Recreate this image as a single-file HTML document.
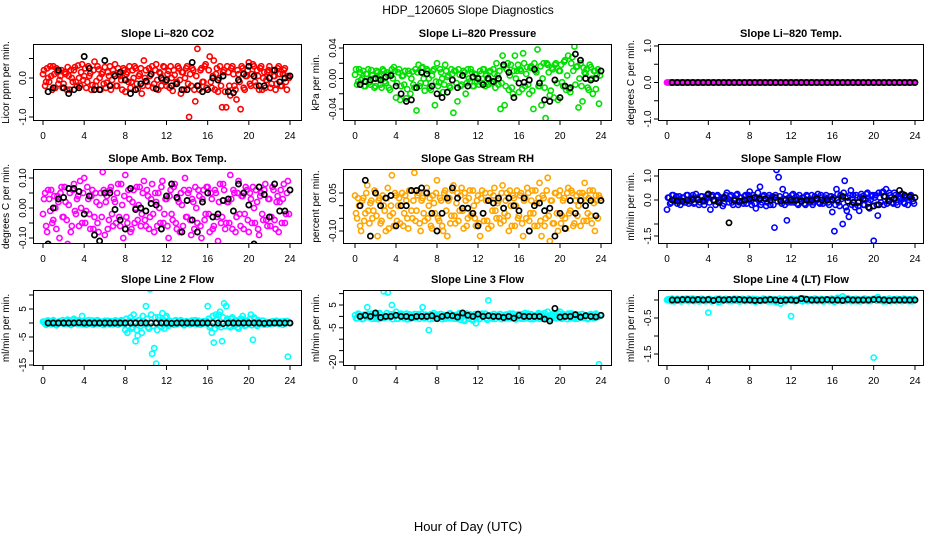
<!DOCTYPE html>
<html><head><meta charset="utf-8"><style>
html,body{margin:0;padding:0;background:#fff;}
svg{display:block;font-family:"Liberation Sans",sans-serif;}
</style></head><body>
<svg id="chart" width="936" height="540" viewBox="0 0 936 540" xmlns="http://www.w3.org/2000/svg">
<rect width="936" height="540" fill="#fff"/>
<text x="468" y="14" font-size="12" text-anchor="middle">HDP_120605  Slope Diagnostics</text>
<text x="468" y="531" font-size="13" text-anchor="middle">Hour of Day (UTC)</text>
</svg>
<script>
const denseHours = [0,0.2,0.4,0.6,0.8,1,1.2,1.4,1.6,1.8,2,2.2,2.4,2.6,2.8,3,3.2,3.4,3.6,3.8,4,4.2,4.4,4.6,4.8,5,5.2,5.4,5.6,5.8,6,6.2,6.4,6.6,6.8,7,7.2,7.4,7.6,7.8,8,8.2,8.4,8.6,8.8,9,9.2,9.4,9.6,9.8,10,10.2,10.4,10.6,10.8,11,11.2,11.4,11.6,11.8,12,12.2,12.4,12.6,12.8,13,13.2,13.4,13.6,13.8,14,14.2,14.4,14.6,14.8,15,15.2,15.4,15.6,15.8,16,16.2,16.4,16.6,16.8,17,17.2,17.4,17.6,17.8,18,18.2,18.4,18.6,18.8,19,19.2,19.4,19.6,19.8,20,20.2,20.4,20.6,20.8,21,21.2,21.4,21.6,21.8,22,22.2,22.4,22.6,22.8,23,23.2,23.4,23.6,23.8];
const denseHours2 = [0.1,0.3,0.5,0.7,0.9,1.1,1.3,1.5,1.7,1.9,2.1,2.3,2.5,2.7,2.9,3.1,3.3,3.5,3.7,3.9,4.1,4.3,4.5,4.7,4.9,5.1,5.3,5.5,5.7,5.9,6.1,6.3,6.5,6.7,6.9,7.1,7.3,7.5,7.7,7.9,8.1,8.3,8.5,8.7,8.9,9.1,9.3,9.5,9.7,9.9,10.1,10.3,10.5,10.7,10.9,11.1,11.3,11.5,11.7,11.9,12.1,12.3,12.5,12.7,12.9,13.1,13.3,13.5,13.7,13.9,14.1,14.3,14.5,14.7,14.9,15.1,15.3,15.5,15.7,15.9,16.1,16.3,16.5,16.7,16.9,17.1,17.3,17.5,17.7,17.9,18.1,18.3,18.5,18.7,18.9,19.1,19.3,19.5,19.7,19.9,20.1,20.3,20.5,20.7,20.9,21.1,21.3,21.5,21.7,21.9,22.1,22.3,22.5,22.7,22.9,23.1,23.3,23.5,23.7,23.9];
const blackHours = [0.5,1,1.5,2,2.5,3,3.5,4,4.5,5,5.5,6,6.5,7,7.5,8,8.5,9,9.5,10,10.5,11,11.5,12,12.5,13,13.5,14,14.5,15,15.5,16,16.5,17,17.5,18,18.5,19,19.5,20,20.5,21,21.5,22,22.5,23,23.5,24];
const xTicks = [0,4,8,12,16,20,24];

const co2Dense = [0.1,-0.2,0.25,-0.1,0.05,0.3,-0.25,0.15,-0.05,0.2,
-0.15,0.1,0.28,-0.3,0.0,0.2,-0.1,0.32,-0.2,0.35,
0.05,-0.25,0.3,0.12,-0.18,0.42,-0.08,0.22,-0.3,0.15,
0.28,-0.12,0.05,-0.3,0.2,0.35,-0.2,0.1,-0.05,0.25,
-0.35,0.15,0.3,-0.1,0.0,0.25,-0.28,0.1,-0.4,0.45,
0.2,-0.2,0.05,0.3,-0.15,0.35,-0.3,0.12,-0.05,0.28,
-0.2,0.18,0.3,-0.33,0.08,-0.1,0.25,-0.4,0.15,0.0,
0.3,-1.0,-0.2,0.2,-0.6,0.75,-0.3,0.25,-0.1,0.35,
-1.2,0.55,-0.25,0.45,0.1,-0.35,0.3,-0.75,0.2,-0.75,
0.15,-0.45,0.3,-0.2,-0.55,0.1,-0.8,0.25,-0.3,0.05,
0.4,-0.2,0.35,-0.1,0.2,-0.3,0.3,0.0,-0.25,0.15,
0.3,-0.15,0.05,-0.3,0.25,0.1,-0.2,0.2,-0.1,0.05];
const co2Dense2 = [0.2,-0.1,0.0,0.3,-0.3,0.1,0.25,-0.15,0.05,-0.25,
0.15,-0.3,0.05,0.2,-0.1,0.28,-0.2,0.0,0.15,-0.05,
0.25,-0.1,0.05,-0.3,0.2,-0.2,0.3,0.0,0.1,-0.15,
-0.25,0.15,0.3,-0.05,0.1,-0.2,0.25,0.05,-0.3,0.2,
0.1,-0.1,-0.25,0.2,0.3,-0.15,0.05,0.25,-0.2,0.0,
-0.1,0.25,0.1,-0.25,0.2,-0.05,0.15,-0.2,0.3,-0.1,
0.1,-0.25,0.0,0.2,-0.15,0.3,-0.05,0.15,-0.3,0.25,
-0.15,0.1,0.25,-0.3,0.05,-0.2,0.2,-0.1,0.3,-0.25,
0.2,-0.1,0.05,-0.3,0.25,0.0,-0.2,0.15,-0.35,0.3,
-0.2,0.25,0.1,-0.3,0.2,-0.1,0.3,-0.25,0.05,0.2,
-0.15,0.1,0.3,-0.2,0.05,0.25,-0.3,0.15,-0.05,0.2,
-0.25,0.2,0.05,-0.15,0.3,-0.2,0.1,0.25,-0.3,0.0];
const co2Black = [-0.35,-0.25,0.2,-0.25,-0.4,-0.3,-0.25,0.55,
0.25,-0.3,-0.3,0.45,-0.2,0.05,0.15,-0.05,
-0.4,-0.3,-0.15,-0.08,0.1,-0.28,0.0,-0.05,
-0.2,-0.15,-0.3,-0.3,0.4,-0.2,-0.35,-0.3,
0.0,-0.05,0.05,-0.35,-0.38,-0.05,0.1,0.3,
0.05,-0.2,-0.2,0.0,0.2,-0.1,0.0,0.05];

const presDense = [0.005,-0.008,0.012,-0.002,0.01,-0.01,0.006,-0.005,0.011,0.0,
-0.01,0.008,0.003,-0.012,0.01,-0.006,0.005,-0.015,0.012,0.015,
-0.025,0.008,-0.028,0.003,-0.008,-0.026,0.01,-0.02,0.009,-0.012,
-0.042,0.018,-0.006,0.015,-0.016,0.012,0.0,-0.015,0.01,-0.035,
0.02,-0.005,0.008,-0.018,0.018,0.002,-0.01,0.012,-0.045,0.01,
-0.03,0.005,-0.008,0.01,-0.02,0.012,-0.004,0.008,-0.01,0.005,
0.0,0.01,-0.006,0.012,0.004,-0.008,0.01,-0.004,0.006,0.02,
-0.008,-0.04,0.03,-0.035,0.012,-0.015,0.018,-0.02,0.03,0.01,
-0.018,0.01,0.033,-0.01,0.015,-0.02,0.016,-0.04,0.01,0.038,
-0.01,-0.035,0.02,-0.052,0.018,-0.022,0.014,-0.025,0.02,-0.028,
0.01,-0.005,0.022,-0.015,0.03,-0.018,0.028,0.042,0.015,-0.038,
0.02,-0.03,0.008,0.012,-0.015,0.015,-0.02,0.01,0.005,-0.033];
const presDense2 = [0.012,-0.004,0.008,0.0,-0.01,0.006,0.012,-0.008,0.004,-0.012,
0.01,0.0,-0.008,0.012,-0.004,0.008,-0.012,0.006,0.0,0.01,
-0.006,0.012,-0.01,0.004,0.01,-0.014,0.006,0.0,-0.008,0.012,
0.008,-0.01,0.014,0.0,-0.006,0.01,-0.012,0.004,0.012,-0.004,
-0.01,0.012,0.0,-0.008,0.01,0.004,-0.012,0.006,0.01,-0.006,
0.012,-0.01,0.004,0.008,-0.006,0.0,0.012,-0.01,0.006,-0.004,
-0.008,0.006,0.012,-0.01,0.0,0.008,-0.006,0.012,-0.012,0.004,
0.01,-0.006,0.016,-0.01,0.02,0.004,-0.012,0.01,0.0,0.018,
0.012,-0.014,0.02,0.006,-0.008,0.014,-0.016,0.02,0.008,-0.01,
0.016,0.0,-0.012,0.02,0.008,-0.016,0.012,0.018,-0.006,0.01,
0.018,-0.01,0.024,0.004,-0.014,0.02,0.01,-0.008,0.016,0.0,
-0.01,0.014,0.006,-0.012,0.018,0.0,0.01,-0.014,0.012,0.004];
const presBlack = [-0.008,-0.004,-0.002,0.0,-0.002,0.002,0.004,-0.01,
-0.02,-0.03,-0.028,-0.012,0.008,0.006,-0.01,-0.02,
-0.025,-0.018,-0.002,-0.012,0.004,-0.01,0.002,0.0,
-0.008,0.0,-0.004,0.0,0.018,0.008,-0.025,-0.006,
-0.005,-0.002,0.012,-0.006,-0.028,-0.03,-0.002,-0.025,
-0.01,-0.012,0.032,0.024,0.0,-0.002,0.0,0.01];

const tempDense = [0,0,0,0,0,0,0,0,0,0, 0,0,0,0,0,0,0,0,0,0, 0,0,0,0,0,0,0,0,0,0, 0,0,0,0,0,0,0,0,0,0,
0,0,0,0,0,0,0,0,0,0, 0,0,0,0,0,0,0,0,0,0, 0,0,0,0,0,0,0,0,0,0, 0,0,0,0,0,0,0,0,0,0,
0,0,0,0,0,0,0,0,0,0, 0,0,0,0,0,0,0,0,0,0, 0,0,0,0,0,0,0,0,0,0, 0,0,0,0,0,0,0,0,0,0];
const tempBlack = [0,0,0,0,0,0,0,0, 0,0,0,0,0,0,0,0, 0,0,0,0,0,0,0,0, 0,0,0,0,0,0,0,0, 0,0,0,0,0,0,0,0, 0,0,0,0,0,0,0,0];

const ambDense = [-0.02,0.05,-0.08,0.03,0.06,-0.04,0.0,0.04,-0.1,0.07,
-0.03,0.02,-0.12,0.05,-0.06,0.08,-0.02,0.04,0.09,-0.05,
0.1,-0.01,0.03,-0.07,0.06,-0.03,0.02,-0.08,0.05,0.12,
-0.09,0.04,-0.04,0.07,-0.06,0.02,0.05,-0.03,0.08,-0.1,
0.11,-0.05,0.03,-0.07,0.06,0.0,-0.04,0.07,-0.02,0.09,
-0.06,0.04,-0.03,0.08,-0.08,0.02,0.05,-0.05,0.09,-0.02,
0.03,-0.1,0.06,-0.04,0.08,-0.07,0.02,0.05,-0.06,0.1,
-0.03,0.06,-0.09,0.02,0.07,-0.05,0.04,-0.1,0.06,-0.02,
0.07,-0.08,0.03,-0.06,0.05,-0.11,0.08,-0.03,0.06,-0.05,
0.02,0.11,-0.07,0.05,-0.03,0.09,-0.06,0.04,-0.02,0.06,
-0.08,0.03,0.07,-0.05,0.02,-0.09,0.05,-0.04,0.08,-0.06,
0.03,-0.03,0.06,-0.07,0.04,0.02,-0.05,0.08,-0.02,0.09];
const ambDense2 = [0.03,-0.06,0.06,-0.01,-0.05,0.04,-0.07,0.02,0.05,-0.03,
0.07,-0.04,0.01,-0.08,0.06,-0.01,0.03,-0.06,0.0,0.05,
-0.05,0.07,-0.02,0.04,-0.07,0.05,-0.05,0.01,-0.03,0.06,
0.02,-0.07,0.06,-0.02,0.03,-0.05,0.08,-0.06,0.01,0.04,
-0.03,0.06,-0.08,0.02,-0.05,0.07,0.01,-0.06,0.05,-0.04,
0.06,-0.07,0.03,-0.02,0.05,-0.06,0.0,0.07,-0.05,0.03,
-0.06,0.04,-0.02,0.07,-0.05,0.03,-0.08,0.01,0.06,-0.03,
0.05,-0.04,0.03,-0.07,0.0,0.06,-0.06,0.03,-0.04,0.07,
-0.02,0.05,-0.07,0.06,-0.03,0.02,-0.05,0.08,-0.07,0.02,
-0.05,0.03,0.06,-0.08,0.05,-0.02,0.04,-0.07,0.07,-0.04,
0.05,-0.05,0.0,0.06,-0.07,0.04,-0.02,0.06,-0.04,0.03,
-0.06,0.07,-0.04,0.02,-0.08,0.06,0.03,-0.05,0.05,-0.02];
const ambBlack = [-0.12,0.0,0.03,0.035,0.065,0.065,0.055,-0.02,
0.04,-0.09,-0.11,0.05,0.05,-0.005,-0.04,-0.07,
0.065,-0.005,0.0,-0.01,0.015,0.01,-0.07,0.04,
0.08,0.035,-0.08,0.025,-0.04,-0.08,0.02,0.05,
-0.03,-0.02,0.025,0.03,-0.01,0.08,0.05,0.01,
-0.12,0.07,0.045,-0.03,0.08,-0.01,-0.01,0.06];

const rhDense = [0.04,-0.05,0.0,-0.1,0.03,-0.03,0.08,-0.07,0.02,-0.02,
0.05,-0.12,0.03,-0.06,0.0,-0.1,0.07,-0.04,0.12,-0.08,
0.04,0.0,-0.07,0.05,-0.03,0.02,-0.09,0.06,-0.05,0.13,
-0.02,0.05,-0.1,0.03,-0.06,0.07,0.0,-0.08,0.04,-0.03,
0.1,-0.06,0.02,-0.1,0.06,-0.12,0.03,-0.04,0.08,-0.07,
0.05,-0.02,0.07,-0.09,0.02,-0.05,0.06,-0.03,0.0,-0.08,
0.04,-0.12,0.06,-0.06,0.02,-0.09,0.05,-0.02,0.07,-0.05,
0.02,-0.07,0.08,-0.03,0.05,-0.1,0.0,0.04,-0.08,0.06,
-0.04,0.05,-0.12,0.03,0.07,-0.06,0.02,-0.03,0.06,-0.08,
0.09,-0.12,0.03,-0.05,0.11,-0.14,0.02,-0.07,0.05,-0.1,
0.06,-0.04,0.03,-0.09,0.07,-0.02,0.05,-0.07,0.04,0.0,
-0.08,0.05,0.09,-0.06,0.03,-0.04,0.06,-0.1,0.02,0.04];
const rhDense2 = [-0.03,0.03,-0.08,0.02,-0.06,0.05,-0.02,0.01,-0.05,0.06,
-0.04,0.02,-0.07,0.04,-0.02,0.03,-0.09,0.0,-0.03,0.05,
-0.06,0.03,0.0,-0.08,0.04,-0.05,0.06,-0.02,0.02,-0.06,
0.04,-0.07,0.02,-0.03,0.05,-0.05,0.03,-0.09,0.01,0.05,
-0.05,0.03,-0.08,0.05,-0.02,0.02,-0.07,0.06,-0.04,0.01,
-0.06,0.04,-0.02,0.05,-0.08,0.03,-0.04,0.06,-0.05,0.02,
-0.07,0.03,-0.03,0.05,-0.06,0.02,-0.08,0.04,-0.02,0.01,
-0.05,0.05,-0.06,0.02,-0.04,0.06,-0.08,0.03,0.0,-0.05,
0.04,-0.07,0.02,-0.05,0.05,-0.03,0.06,-0.08,0.01,0.03,
-0.06,0.04,-0.08,0.06,-0.04,0.02,-0.07,0.05,-0.03,0.04,
-0.07,0.02,-0.05,0.05,-0.03,0.06,-0.08,0.02,-0.04,0.05,
0.02,-0.06,0.04,-0.03,0.06,-0.07,0.01,0.04,-0.05,0.03];
const rhBlack = [0.0,0.1,-0.12,0.05,0.0,0.03,0.04,-0.08,
0.0,0.0,0.06,0.06,0.07,0.05,-0.03,-0.1,
-0.03,0.03,0.07,0.03,-0.01,-0.01,-0.03,-0.08,
-0.03,0.02,0.01,0.03,-0.01,0.03,0.0,-0.02,
0.03,-0.1,0.0,0.01,-0.02,-0.01,-0.12,-0.03,
-0.09,0.02,-0.03,0.02,0.0,0.02,-0.04,0.02];

const flowDense = [-0.4,0.1,-0.1,0.2,0.0,-0.15,0.15,-0.05,0.1,-0.1,
0.2,-0.05,0.1,-0.15,0.25,0.0,-0.1,0.15,-0.2,0.05,
0.1,-0.4,0.2,-0.05,0.15,-0.1,0.0,-0.25,0.1,0.3,
-0.1,0.2,-0.2,0.05,0.25,-0.1,0.1,-0.15,0.2,0.0,
0.35,-0.2,0.1,-0.35,0.3,0.55,-0.1,0.2,-0.25,0.1,
-0.2,0.15,-1.15,1.25,0.95,0.0,0.45,-0.2,-0.85,0.1,
-0.1,0.25,0.0,-0.15,0.2,-0.05,0.1,-0.2,0.15,0.0,
0.2,-0.1,0.05,0.25,-0.15,0.1,-0.05,0.2,-0.1,0.15,
-0.5,-1.3,0.45,-0.1,0.2,-1.0,0.8,-0.45,-0.7,0.4,
0.2,-0.3,0.1,-0.45,0.25,-0.2,0.0,0.3,-0.35,0.15,
-1.7,0.2,-0.65,0.1,0.3,-0.2,0.45,0.0,0.2,-0.1,
0.3,-0.1,0.15,0.05,0.25,-0.15,0.1,0.0,0.2,-0.05];
const flowDense2 = [0.1,-0.15,0.2,-0.05,0.15,0.0,-0.2,0.1,-0.1,0.2,
-0.15,0.05,0.2,-0.1,0.1,-0.2,0.15,0.0,-0.05,0.2,
-0.1,0.15,0.0,-0.2,0.2,-0.05,0.1,-0.15,0.2,0.05,
0.15,-0.1,0.05,0.2,-0.2,0.1,-0.05,0.15,-0.15,0.2,
-0.05,0.2,-0.15,0.1,0.0,-0.2,0.15,0.05,-0.1,0.2,
0.1,-0.2,0.2,-0.05,0.15,-0.15,0.05,0.2,-0.1,0.0,
0.2,-0.1,0.15,-0.2,0.05,0.1,-0.15,0.2,0.0,-0.1,
-0.2,0.15,0.0,-0.1,0.2,-0.15,0.1,0.05,-0.2,0.15,
0.1,-0.2,0.25,-0.25,0.05,0.3,-0.3,0.1,0.2,-0.2,
-0.1,0.2,-0.25,0.1,0.15,-0.2,0.25,-0.1,0.0,0.2,
0.1,-0.2,0.3,-0.1,0.35,0.15,-0.15,0.3,0.1,-0.15,
0.2,-0.2,0.1,0.25,-0.1,0.15,-0.2,0.1,0.05,-0.15];
const flowBlack = [0.0,-0.05,-0.05,0.0,0.02,0.02,-0.05,0.25,
0.0,-0.1,0.1,-0.95,-0.02,-0.05,0.0,0.05,
0.1,0.05,0.05,0.0,0.1,-0.05,0.0,0.0,
0.0,-0.05,0.0,0.0,0.05,0.0,0.0,0.02,
0.0,0.15,-0.05,-0.1,-0.1,0.05,-0.3,-0.25,
-0.2,0.15,-0.05,0.05,0.4,0.2,0.15,0.1];

const line2Dense = [0.5,-0.3,0.8,0.2,-0.5,1.0,0.0,-0.4,0.6,0.3,
-0.2,0.7,1.2,-0.5,0.4,1.5,0.0,0.9,-0.3,2.5,
0.3,-0.6,1.0,0.2,-0.4,0.8,-0.2,0.5,0.0,-0.5,
0.8,0.1,-0.3,0.6,-0.5,0.9,0.3,-0.2,1.0,0.0,
-2.5,-3.5,0.8,-2.0,3.0,-6.5,-4.5,1.0,-3.5,0.5,
6.0,-1.5,12.0,-11.0,-9.0,-14.5,2.0,-1.0,3.5,-2.0,
2.5,-1.0,0.5,0.0,0.8,-0.5,0.3,1.0,-0.4,0.2,
0.5,-0.3,0.8,0.0,1.0,-0.5,0.3,-0.2,0.6,0.0,
6.0,-1.5,-3.5,-7.0,3.0,-1.0,4.0,-6.5,7.0,6.0,
1.0,-1.5,2.0,-1.0,0.5,-2.0,1.5,2.5,-1.0,0.8,
-0.5,3.0,-6.0,1.5,-1.0,0.5,-0.3,0.8,0.0,-0.5,
0.3,-0.2,0.5,0.0,0.4,-0.3,0.2,0.6,-0.1,-12.0];
const line2Dense2 = [0.3,-0.6,0.9,0.1,-0.3,0.6,-0.8,0.4,0.0,1.0,
-0.4,0.8,0.2,-0.7,1.1,0.0,-0.2,0.9,0.5,-0.5,
0.7,-0.3,0.1,0.9,-0.6,0.3,1.0,-0.2,0.5,-0.7,
0.2,0.8,-0.5,0.4,-0.1,0.9,-0.6,0.3,0.7,-0.4,
1.5,-1.0,2.0,-1.5,0.5,-2.5,1.0,-1.0,2.5,-0.5,
1.5,-2.0,3.0,-1.0,2.0,-2.5,1.0,-1.5,0.5,2.0,
-0.5,0.8,0.2,-0.6,1.0,-0.3,0.5,0.0,-0.8,0.6,
0.2,-0.5,0.9,-0.2,0.4,0.8,-0.6,0.3,-0.1,0.7,
1.5,-1.0,2.5,-2.0,1.0,3.0,-1.5,2.0,-1.0,1.5,
-1.0,1.5,-0.5,1.0,-1.5,0.8,-0.3,1.2,-0.8,0.5,
1.5,-0.8,2.0,-0.5,1.0,-0.3,0.8,-0.6,0.4,0.2,
-0.4,0.6,0.0,0.8,-0.3,0.5,-0.6,0.3,0.7,0.1];
const line2Black = [0,0,0,0,0,0,0.1,0,
0,0,0,0,0,0,0,0,
0,0,0,0,0,0,0,0,
-0.1,0,0,0,0,0,0,0,
0,0,-0.2,0,0,0,0,0,
0,0,-0.1,0,0,0,0,0];

const line3Dense = [0.5,-0.8,1.0,0.0,-1.0,0.8,4.0,-0.5,1.2,0.3,
-1.0,0.6,1.5,-0.8,11.0,0.2,10.5,-0.5,5.0,1.0,
2.0,-1.0,1.0,0.3,-0.8,1.2,0.0,-1.0,0.5,1.0,
-0.5,1.0,0.2,4.0,-0.8,0.5,-6.0,1.0,-1.0,0.3,
0.8,-0.5,1.0,0.0,-1.0,0.5,1.2,-0.8,0.3,0.6,
-1.0,1.5,0.0,-1.5,0.8,-0.5,1.0,-1.2,0.5,-3.0,
0.8,-1.0,1.2,0.0,-0.8,7.0,0.5,-1.0,1.0,0.2,
-0.5,1.0,0.0,-1.0,0.8,0.3,-0.8,1.2,0.0,-0.5,
1.0,-1.0,0.5,1.5,-0.8,0.0,1.0,-1.2,0.5,0.8,
-1.0,1.0,0.0,-0.5,2.0,-1.0,0.5,1.0,-0.8,0.3,
2.0,-1.0,0.5,0.0,1.2,-0.8,0.6,-1.0,0.3,0.8,
-0.5,1.0,0.0,0.5,-0.8,1.0,0.2,-0.5,0.8,-21.0];
const line3Dense2 = [-0.8,1.2,0.3,-1.2,0.8,-0.3,1.0,0.0,-1.0,1.3,
0.5,-1.2,0.8,0.0,-0.6,1.5,-0.3,0.9,-1.2,0.4,
-1.0,0.6,1.2,-0.5,0.2,-1.3,0.9,0.4,-0.7,1.0,
0.3,-1.0,1.2,-0.4,0.8,0.0,-1.2,0.6,1.4,-0.6,
-0.3,1.0,-1.2,0.6,0.2,-0.8,1.3,0.0,-1.0,0.5,
1.0,-1.5,0.5,-2.0,1.2,-1.0,0.3,-1.8,1.0,-0.5,
-1.2,0.7,0.0,1.2,-1.5,0.4,-0.6,1.0,-1.0,0.5,
1.0,-1.2,0.4,0.8,-0.8,1.2,-0.3,0.2,-1.3,0.9,
-0.6,1.0,-1.0,0.3,1.2,-1.2,0.5,0.0,-0.8,1.4,
0.8,-1.0,1.5,-0.3,0.4,-1.2,1.0,0.2,-0.6,1.2,
-0.8,1.0,0.0,-1.2,0.6,1.3,-0.5,0.8,-1.0,0.3,
1.0,-0.6,0.4,-1.2,0.8,0.0,-0.8,1.2,-0.3,0.5];
const line3Black = [0.0,0.5,0.0,1.5,-0.5,0.0,0.0,0.5,
0.0,0.0,-0.5,0.0,0.0,0.0,0.3,-1.0,
0.0,0.5,0.3,-0.3,1.5,0.5,0.0,1.0,
0.0,0.3,0.0,0.0,-0.5,0.0,-0.8,0.5,
0.0,0.0,0.0,0.0,-1.2,-2.0,3.5,-0.3,
0.0,0.0,0.8,-0.3,0.3,0.0,-0.2,0.5];

const line4Dense = [0.0,0.02,-0.03,0.01,-0.02,0.03,0.0,-0.04,0.02,0.0,
-0.02,0.03,0.0,-0.03,0.02,0.0,-0.02,0.03,0.0,-0.03,
-0.35,0.02,-0.03,0.0,0.03,-0.06,0.01,-0.02,0.02,0.0,
-0.03,0.02,0.0,-0.02,0.03,-0.04,0.0,0.02,-0.03,0.01,
0.0,-0.03,0.02,-0.05,0.01,0.0,-0.02,0.03,0.0,-0.04,
0.02,-0.03,0.0,-0.06,0.02,-0.1,0.01,-0.03,0.0,0.02,
-0.45,0.02,-0.03,0.0,0.03,-0.02,0.05,0.0,-0.03,0.02,
0.0,-0.02,0.03,-0.03,0.01,0.0,-0.04,0.02,0.0,-0.02,
0.03,-0.05,0.0,0.02,-0.03,0.1,0.0,-0.02,0.03,-0.03,
0.0,0.02,-0.03,0.01,0.0,-0.02,0.03,-0.03,0.0,0.02,
-1.6,0.03,0.08,-0.02,0.0,0.02,-0.04,0.01,-0.03,0.0,
0.02,-0.03,0.0,0.02,-0.02,0.03,0.0,-0.03,0.02,0.0];
const line4Dense2 = [0.02,-0.02,0.04,-0.04,0.0,0.02,-0.03,0.03,-0.01,0.04,
-0.03,0.01,0.04,-0.02,0.02,-0.04,0.03,0.0,-0.03,0.02,
0.03,-0.04,0.0,0.02,-0.02,0.04,-0.03,0.01,0.03,-0.02,
0.0,-0.03,0.04,-0.01,0.02,-0.04,0.03,0.0,-0.02,0.04,
-0.02,0.03,-0.04,0.02,0.0,-0.03,0.04,-0.02,0.01,0.03,
-0.04,0.02,0.0,-0.03,0.04,-0.02,0.03,-0.04,0.01,0.02,
0.03,-0.03,0.02,-0.01,0.04,-0.04,0.0,0.03,-0.02,0.02,
-0.03,0.04,0.0,-0.02,0.03,-0.04,0.02,0.01,-0.03,0.04,
0.02,-0.04,0.06,-0.02,0.0,0.03,-0.03,0.05,-0.01,0.02,
-0.03,0.03,0.0,-0.04,0.02,0.04,-0.02,0.01,-0.03,0.03,
0.04,-0.02,0.03,0.0,-0.04,0.02,-0.01,0.04,-0.03,0.02,
-0.02,0.03,0.0,-0.03,0.04,-0.02,0.02,0.0,-0.04,0.03];
const line4Black = [0.0,0.0,0.01,0.01,0.0,0.01,0.0,0.01,
-0.01,0.01,0.0,0.01,0.01,0.01,0.0,0.0,
-0.01,-0.01,0.0,0.01,0.0,-0.02,0.0,0.0,
-0.01,0.04,0.02,0.0,0.0,0.0,0.01,0.0,
0.0,-0.01,0.01,0.0,0.0,0.0,0.0,0.01,
0.01,0.0,-0.01,0.0,0.0,0.0,0.0,0.0];

const NS = 'http://www.w3.org/2000/svg';
const svg = document.getElementById('chart');
function mk(tag, attrs, parent) {
  const e = document.createElementNS(NS, tag);
  for (const k in attrs) e.setAttribute(k, attrs[k]);
  (parent || svg).appendChild(e);
  return e;
}
const panels = [
 {key:'co2', title:'Slope Li\u2013820 CO2', ytitle:'Licor ppm per min.', box:[33,44,302,121], x0:43, x24:290, ya:[0,78], yb:[-1,117], ticks:[-1,-0.5,0,0.5], labels:[[-1,'-1.0'],[0,'0.0']], color:'#ff0000', dense:co2Dense, dense2:co2Dense2, black:co2Black},
 {key:'pressure', title:'Slope Li\u2013820 Pressure', ytitle:'kPa per min.', box:[343,44,612,121], x0:355, x24:601, ya:[0.04,48], yb:[-0.04,109], ticks:[-0.04,-0.02,0,0.02,0.04], labels:[[-0.04,'-0.04'],[0,'0.00'],[0.04,'0.04']], color:'#00e000', dense:presDense, dense2:presDense2, black:presBlack},
 {key:'li820-temp', title:'Slope Li\u2013820 Temp.', ytitle:'degrees C per min.', box:[658,44,924,121], x0:667, x24:915, ya:[1,46], yb:[-1,119], ticks:[-1,-0.5,0,0.5,1], labels:[[-1,'-1.0'],[0,'0.0'],[1,'1.0']], color:'#ff00ff', dense:tempDense, dense2:tempDense, black:tempBlack},
 {key:'amb-box-temp', title:'Slope Amb. Box Temp.', ytitle:'degrees C per min.', box:[33,169,302,244], x0:43, x24:290, ya:[0.1,178], yb:[-0.1,238], ticks:[-0.1,-0.05,0,0.05,0.1], labels:[[-0.1,'-0.10'],[0,'0.00'],[0.1,'0.10']], color:'#ff00ff', dense:ambDense, dense2:ambDense2, black:ambBlack},
 {key:'gas-stream-rh', title:'Slope Gas Stream RH', ytitle:'percent per min.', box:[343,169,612,244], x0:355, x24:601, ya:[0.05,193], yb:[-0.1,231], ticks:[-0.1,-0.05,0,0.05], labels:[[-0.1,'-0.10'],[0.05,'0.05']], color:'#ffa500', dense:rhDense, dense2:rhDense2, black:rhBlack},
 {key:'sample-flow', title:'Slope Sample Flow', ytitle:'ml/min per min.', box:[658,169,924,244], x0:667, x24:915, ya:[1,176], yb:[-1.5,236], ticks:[-1.5,-1,0,1], labels:[[-1.5,'-1.5'],[0,'0.0'],[1,'1.0']], color:'#0000ff', dense:flowDense, dense2:flowDense2, black:flowBlack},
 {key:'line2-flow', title:'Slope Line 2 Flow', ytitle:'ml/min per min.', box:[33,290,302,366], x0:43, x24:290, ya:[5,309], yb:[-5,337], ticks:[-15,-10,-5,0,5,10], labels:[[-15,'-15'],[-5,'-5'],[5,'5']], color:'#00ffff', dense:line2Dense, dense2:line2Dense2, black:line2Black},
 {key:'line3-flow', title:'Slope Line 3 Flow', ytitle:'ml/min per min.', box:[343,290,612,366], x0:355, x24:601, ya:[5,305], yb:[-20,362], ticks:[-20,-15,-10,-5,0,5,10], labels:[[-20,'-20'],[-5,'-5'],[5,'5']], color:'#00ffff', dense:line3Dense, dense2:line3Dense2, black:line3Black},
 {key:'line4-flow', title:'Slope Line 4 (LT) Flow', ytitle:'ml/min per min.', box:[658,290,924,366], x0:667, x24:915, ya:[-0.5,318], yb:[-1.5,354], ticks:[-1.5,-1,-0.5,0], labels:[[-1.5,'-1.5'],[-0.5,'-0.5']], color:'#00ffff', dense:line4Dense, dense2:line4Dense2, black:line4Black}
];
panels.forEach(p => {
  const [L,T,R,B] = p.box;
  const xOf = h => p.x0 + (p.x24 - p.x0) * h / 24;
  const yOf = v => p.ya[1] + (v - p.ya[0]) * (p.yb[1] - p.ya[1]) / (p.yb[0] - p.ya[0]);
  const g = mk('g', {});
  
  
  const clipId = 'clip-' + p.key;
  const cp = mk('clipPath', {id: clipId}, g);
  mk('rect', {x: L, y: T, width: R - L, height: B - T}, cp);
  const t = mk('text', {x: (L + R) / 2, y: T - 7, 'font-size': 11, 'font-weight': 'bold', 'text-anchor': 'middle'}, g);
  t.textContent = p.title;
  
  
  const yt = mk('text', {x: 0, y: 0, 'font-size': 10, 'text-anchor': 'middle', transform: 'translate(' + (L - 24) + ',' + ((T + B) / 2) + ') rotate(-90)'}, g);
  yt.textContent = p.ytitle;
  
  
  const pts = mk('g', {'clip-path': 'url(#' + clipId + ')', fill: 'none'}, g);
  p.dense.forEach((v, i) => {
    const c = mk('circle', {cx: xOf(denseHours[i]).toFixed(1), cy: yOf(v).toFixed(1), r: 2.6, stroke: p.color, 'stroke-width': 1.6}, pts);
    
    
  });
  p.dense2.forEach((v, i) => {
    const c = mk('circle', {cx: xOf(denseHours2[i]).toFixed(1), cy: yOf(v).toFixed(1), r: 2.6, stroke: p.color, 'stroke-width': 1.6}, pts);
    
    
  });
  p.black.forEach((v, i) => {
    const c = mk('circle', {cx: xOf(blackHours[i]).toFixed(1), cy: yOf(v).toFixed(1), r: 2.6, stroke: '#000', 'stroke-width': 1.7}, pts);
    
    
  });
  const box = mk('rect', {x: L + 0.5, y: T + 0.5, width: R - L - 1, height: B - T - 1, fill: 'none', stroke: '#000', 'stroke-width': 1}, g);
  
  
  xTicks.forEach(h => {
    const x = xOf(h);
    mk('line', {x1: x, x2: x, y1: B, y2: B + 4, stroke: '#000'}, g);
    const lb = mk('text', {x: x, y: B + 18, 'font-size': 10, 'text-anchor': 'middle'}, g);
    lb.textContent = String(h);
    
    
  });
  p.ticks.forEach(v => {
    const y = yOf(v);
    mk('line', {x1: L - 4, x2: L, y1: y, y2: y, stroke: '#000'}, g);
  });
  p.labels.forEach(([v, s]) => {
    const y = yOf(v);
    const lb = mk('text', {x: 0, y: 0, 'font-size': 10, 'text-anchor': 'middle', transform: 'translate(' + (L - 7) + ',' + y + ') rotate(-90)'}, g);
    lb.textContent = s;
    
    
  });
});
</script>
</body></html>
